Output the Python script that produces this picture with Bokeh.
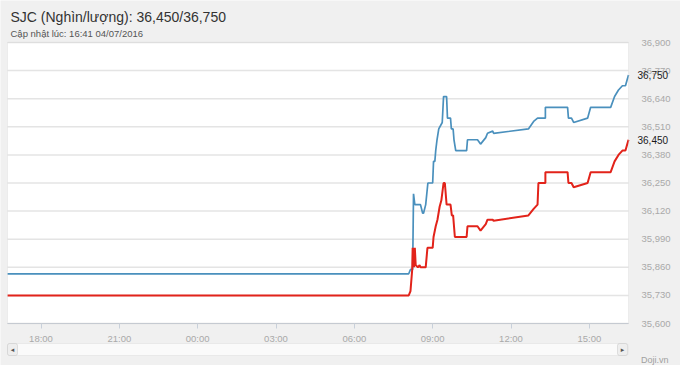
import pandas as pd
from bokeh.plotting import figure
from bokeh.models import (Label, FixedTicker, NumeralTickFormatter, DatetimeTickFormatter,
                          BoxAnnotation, Range1d, DatetimeAxis, LinearAxis)
from bokeh.embed import file_html
from bokeh.resources import INLINE

TITLE = "SJC (Nghìn/lượng): 36,450/36,750"
SUBTITLE = "Cập nhật lúc: 16:41 04/07/2016"
SOURCE = "Doji.vn"

# Sell price (blue)
sell_times = [
    "2016-07-03 16:43", "2016-07-04 08:05", "2016-07-04 08:09", "2016-07-04 08:14",
    "2016-07-04 08:16", "2016-07-04 08:19", "2016-07-04 08:32", "2016-07-04 08:37",
    "2016-07-04 08:39", "2016-07-04 08:44", "2016-07-04 08:49", "2016-07-04 09:00",
    "2016-07-04 09:02", "2016-07-04 09:05", "2016-07-04 09:07", "2016-07-04 09:10",
    "2016-07-04 09:14", "2016-07-04 09:22", "2016-07-04 09:25", "2016-07-04 09:32",
    "2016-07-04 09:34", "2016-07-04 09:41", "2016-07-04 09:43", "2016-07-04 09:47",
    "2016-07-04 09:49", "2016-07-04 09:53", "2016-07-04 10:18", "2016-07-04 10:20",
    "2016-07-04 10:43", "2016-07-04 10:50", "2016-07-04 11:02", "2016-07-04 11:06",
    "2016-07-04 11:18", "2016-07-04 11:20", "2016-07-04 12:40", "2016-07-04 12:52",
    "2016-07-04 13:01", "2016-07-04 13:19", "2016-07-04 13:19", "2016-07-04 14:10",
    "2016-07-04 14:12", "2016-07-04 14:19", "2016-07-04 14:24", "2016-07-04 14:56",
    "2016-07-04 15:03", "2016-07-04 15:49", "2016-07-04 15:58", "2016-07-04 16:07",
    "2016-07-04 16:16", "2016-07-04 16:23", "2016-07-04 16:30",
]
sell_values = [
    35830, 35830, 35850, 35850,
    36200, 36150, 36150, 36110,
    36110, 36150, 36250, 36250,
    36350, 36350, 36400, 36450,
    36500, 36530, 36650, 36650,
    36550, 36550, 36500, 36500,
    36450, 36400, 36400, 36450,
    36450, 36430, 36460, 36480,
    36490, 36480, 36500, 36535,
    36550, 36550, 36600, 36600,
    36550, 36550, 36530, 36550,
    36600, 36600, 36650, 36680,
    36700, 36700, 36750,
]

# Buy price (red)
buy_times = [
    "2016-07-03 16:43", "2016-07-04 08:05", "2016-07-04 08:09", "2016-07-04 08:13",
    "2016-07-04 08:14", "2016-07-04 08:15", "2016-07-04 08:16", "2016-07-04 08:17",
    "2016-07-04 08:19", "2016-07-04 08:21", "2016-07-04 08:26", "2016-07-04 08:30",
    "2016-07-04 08:32", "2016-07-04 08:44", "2016-07-04 08:48", "2016-07-04 09:00",
    "2016-07-04 09:02", "2016-07-04 09:07", "2016-07-04 09:11", "2016-07-04 09:16",
    "2016-07-04 09:20", "2016-07-04 09:25", "2016-07-04 09:28", "2016-07-04 09:32",
    "2016-07-04 09:41", "2016-07-04 09:44", "2016-07-04 09:47", "2016-07-04 09:51",
    "2016-07-04 10:18", "2016-07-04 10:20", "2016-07-04 10:43", "2016-07-04 10:50",
    "2016-07-04 11:02", "2016-07-04 11:06", "2016-07-04 11:18", "2016-07-04 11:20",
    "2016-07-04 12:40", "2016-07-04 12:52", "2016-07-04 13:01", "2016-07-04 13:03",
    "2016-07-04 13:19", "2016-07-04 13:19", "2016-07-04 14:10", "2016-07-04 14:12",
    "2016-07-04 14:19", "2016-07-04 14:24", "2016-07-04 14:56", "2016-07-04 15:03",
    "2016-07-04 15:49", "2016-07-04 15:58", "2016-07-04 16:07", "2016-07-04 16:16",
    "2016-07-04 16:23", "2016-07-04 16:30",
]
buy_values = [
    35730, 35730, 35750, 35850,
    35950, 35870, 35950, 35860,
    35950, 35870, 35860, 35870,
    35860, 35860, 35950, 35950,
    36000, 36050, 36080, 36140,
    36170, 36250, 36250, 36150,
    36150, 36100, 36100, 36000,
    36000, 36050, 36050, 36030,
    36060, 36080, 36080, 36075,
    36100, 36130, 36150, 36250,
    36250, 36300, 36300, 36250,
    36250, 36230, 36250, 36300,
    36300, 36350, 36380, 36400,
    36400, 36450,
]

x_tick_times = [
    "2016-07-03 18:00", "2016-07-03 21:00", "2016-07-04 00:00", "2016-07-04 03:00",
    "2016-07-04 06:00", "2016-07-04 09:00", "2016-07-04 12:00", "2016-07-04 15:00",
]
y_ticks = [35600, 35730, 35860, 35990, 36120, 36250, 36380, 36510, 36640, 36770, 36900]

FONT = "Liberation Sans"
W, H = 680, 365
# plot area on the canvas (pixels)
FL, FR, FT, FB = 7, 628, 42, 323


def to_ms(strings):
    return [float(t.value // 10**6) for t in pd.to_datetime(strings)]


sell_x = to_ms(sell_times)
buy_x = to_ms(buy_times)

x0, x1 = min(sell_x), max(sell_x)
y0, y1 = min(y_ticks), max(y_ticks)
xpp = (x1 - x0) / (FR - FL)
ypp = (y1 - y0) / (FB - FT)

# the frame covers the whole canvas, so nothing is clipped
p = figure(width=W, height=H, output_backend="svg", toolbar_location=None,
           x_axis_location=None, y_axis_location=None,
           min_border=0, min_border_left=0, min_border_right=0,
           min_border_top=0, min_border_bottom=0,
           x_range=Range1d(start=x0 - FL * xpp, end=x1 + (W - FR) * xpp),
           y_range=Range1d(start=y0 - (H - FB) * ypp, end=y1 + FT * ypp))
p.xgrid.visible = False
p.ygrid.visible = False
p.border_fill_color = "#f0f0f0"
p.background_fill_color = "#f0f0f0"
p.outline_line_color = None

# white plotting area
p.add_layout(BoxAnnotation(left=x0, right=x1, bottom=y0, top=y1, fill_color="#ffffff",
                           fill_alpha=1, line_color=None, level="underlay"))

# horizontal grid lines
p.segment(x0=[x0] * len(y_ticks), x1=[x1] * len(y_ticks), y0=y_ticks, y1=y_ticks,
          line_color="#e4e4e4", line_width=1.5)

p.line(sell_x, sell_values, line_color="#4a90bd", line_width=1.7)
p.line(buy_x, buy_values, line_color="#e2231a", line_width=2)

# plot border
p.add_layout(BoxAnnotation(left=x0, right=x1, bottom=y0, top=y1, fill_color=None,
                           line_color="#d2d2d2", line_width=1))

# axes
fmt = "%H:%M"
xaxis = DatetimeAxis(fixed_location=y0, bounds=(x0, x1),
                     ticker=FixedTicker(ticks=to_ms(x_tick_times)),
                     formatter=DatetimeTickFormatter(minutes=fmt, hourmin=fmt, hours=fmt, days=fmt),
                     axis_line_color="#c0c8d2", major_tick_line_color="#c8d0da",
                     major_tick_out=5, major_tick_in=0, minor_tick_line_color=None,
                     major_label_standoff=4, major_label_text_color="#a9a9a9",
                     major_label_text_font_size="9.5px", major_label_text_font=FONT)
p.add_layout(xaxis, "below")

yaxis = LinearAxis(fixed_location=x1, bounds=(y0, y1), ticker=FixedTicker(ticks=y_ticks),
                   formatter=NumeralTickFormatter(format="0,0"),
                   axis_line_color=None, major_tick_line_color=None,
                   minor_tick_line_color=None, major_label_standoff=7,
                   major_label_text_color="#a9a9a9", major_label_text_font_size="9.5px",
                   major_label_text_font=FONT)
p.add_layout(yaxis, "right")

# last-value labels
for xs_, vs_ in ((sell_x, sell_values), (buy_x, buy_values)):
    p.add_layout(Label(x=xs_[-1], y=vs_[-1], x_offset=9, text=f"{vs_[-1]:,}",
                       text_baseline="middle", text_font_size="10px", text_color="#1a1a1a",
                       text_font=FONT))


def add_text(cx, cy, text, size, color, align="left", font=FONT):
    p.add_layout(Label(x=cx, y=H - cy, x_units="screen", y_units="screen", text=text,
                       text_align=align, text_baseline="middle", text_font_size=size,
                       text_color=color, text_font=font))


def add_box(cl, cr, ct, cb, fill, line, radius):
    p.add_layout(BoxAnnotation(left=cl, right=cr, top=H - ct, bottom=H - cb,
                               left_units="screen", right_units="screen",
                               top_units="screen", bottom_units="screen",
                               fill_color=fill, fill_alpha=1, line_color=line,
                               line_width=1, border_radius=radius))


# title and subtitle
add_text(10, 16, TITLE, "14px", "#333333")
add_text(10, 33, SUBTITLE, "9.5px", "#555555")

# scrollbar
add_box(7, 628, 343, 355, "#fafafa", "#cccccc", 3)
add_box(7, 17, 343, 355, "#eeeeee", "#aaaaaa", 2)
add_box(617, 627, 343, 355, "#eeeeee", "#aaaaaa", 2)
add_text(12, 349, "◂", "7px", "#555555", align="center", font="DejaVu Sans")
add_text(622, 349, "▸", "7px", "#555555", align="center", font="DejaVu Sans")

add_text(668, 359, SOURCE, "9px", "#a0a0a0", align="right")

open("out.html", "w").write(file_html(p, INLINE))
